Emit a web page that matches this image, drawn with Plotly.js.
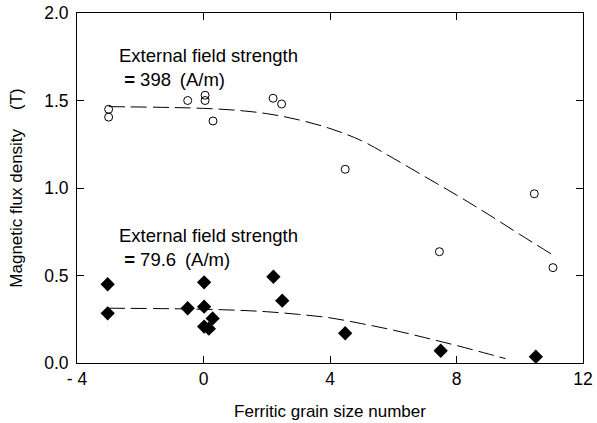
<!DOCTYPE html>
<html>
<head>
<meta charset="utf-8">
<script src="https://cdn.plot.ly/plotly-3.0.1.min.js"></script>
<style>html,body{margin:0;padding:0;background:#fff;}#chart{width:597px;height:423px;}</style>
</head>
<body>
<div id="chart"></div>
<script>
// Open circles: external field strength 398 A/m
const highX = [-3, -3, -0.5, 0.05, 0.05, 0.3, 2.2, 2.47, 4.48, 7.46, 10.46, 11.05];
const highY = [1.45, 1.405, 1.50, 1.53, 1.50, 1.383, 1.513, 1.48, 1.107, 0.636, 0.967, 0.545];
// Filled diamonds: external field strength 79.6 A/m
const lowX = [-3.03, -3.03, -0.5, 0.02, 0.02, 0.02, 0.17, 0.29, 2.21, 2.49, 4.48, 7.5, 10.51];
const lowY = [0.45, 0.284, 0.313, 0.461, 0.322, 0.208, 0.196, 0.255, 0.493, 0.356, 0.17, 0.07, 0.036];
// Dashed trend curves
const highFitX = [-3, -1, 0, 1, 2, 3, 4, 5, 6, 7, 8, 9, 10, 11.05];
const highFitY = [1.465, 1.46, 1.455, 1.445, 1.425, 1.39, 1.34, 1.27, 1.17, 1.065, 0.96, 0.85, 0.735, 0.617];
const lowFitX = [-3, -1, 0, 1, 2, 3, 4, 5, 6, 7, 8, 9, 9.55];
const lowFitY = [0.313, 0.31, 0.307, 0.302, 0.293, 0.278, 0.258, 0.225, 0.188, 0.145, 0.1, 0.052, 0.025];
// Axis ticks
const xTickVals = [-4, 0, 4, 8, 12];
const xTickText = ['- 4', '0', '4', '8', '12'];
const yTickVals = [0, 0.5, 1.0, 1.5, 2.0];
const yTickText = ['0.0', '0.5', '1.0', '1.5', '2.0'];
// Labels
const labelHigh = 'External field strength<br>\u00a0<b>=</b>\u00a0398\u00a0\u2009(A/m)';
const labelLow = 'External field strength<br>\u00a0<b>=</b>\u00a079.6\u00a0\u2009(A/m)';

const FONT = 'Liberation Sans, Arial, sans-serif';
const dashStyle = '16px,6px';

const traces = [
  {x: highFitX, y: highFitY, mode: 'lines', line: {color: '#000', width: 1, dash: dashStyle, shape: 'spline'}, hoverinfo: 'skip'},
  {x: lowFitX, y: lowFitY, mode: 'lines', line: {color: '#000', width: 1, dash: dashStyle, shape: 'spline'}, hoverinfo: 'skip'},
  {x: highX, y: highY, mode: 'markers', marker: {symbol: 'circle-open', size: 8, color: '#000', line: {width: 1, color: '#000'}}},
  {x: lowX, y: lowY, mode: 'markers', marker: {symbol: 'diamond', size: 11, color: '#000'}}
];

const layout = {
  width: 597, height: 423,
  margin: {l: 77, r: 14, t: 13, b: 60},
  showlegend: false,
  paper_bgcolor: '#fff', plot_bgcolor: '#fff',
  font: {family: FONT, size: 17, color: '#000'},
  xaxis: {
    range: [-4, 12], tickvals: xTickVals, ticktext: xTickText,
    showgrid: false, zeroline: false, showline: true, linecolor: '#000', linewidth: 1,
    mirror: 'ticks', ticks: 'inside', ticklen: 7, tickcolor: '#000',
    tickfont: {size: 17.5, family: FONT},
    title: {text: 'Ferritic grain size number', font: {size: 17, family: FONT}, standoff: 17}
  },
  yaxis: {
    range: [0, 2], tickvals: yTickVals, ticktext: yTickText,
    showgrid: false, zeroline: false, showline: true, linecolor: '#000', linewidth: 1,
    mirror: 'ticks', ticks: 'inside', ticklen: 7, tickcolor: '#000',
    tickfont: {size: 17.5, family: FONT}, ticklabelstandoff: 4,
    title: {text: 'Magnetic flux density\u00a0\u00a0\u00a0\u00a0(T)', font: {size: 17, family: FONT}, standoff: 17}
  },
  annotations: [
    {x: -2.73, y: 1.83, xref: 'x', yref: 'y', xanchor: 'left', yanchor: 'top', align: 'left', showarrow: false,
     text: labelHigh, font: {size: 18.5, family: FONT, color: '#000'}},
    {x: -2.73, y: 0.80, xref: 'x', yref: 'y', xanchor: 'left', yanchor: 'top', align: 'left', showarrow: false,
     text: labelLow, font: {size: 18.5, family: FONT, color: '#000'}}
  ]
};

Plotly.newPlot('chart', traces, layout, {displayModeBar: false, staticPlot: true});
</script>
</body>
</html>
